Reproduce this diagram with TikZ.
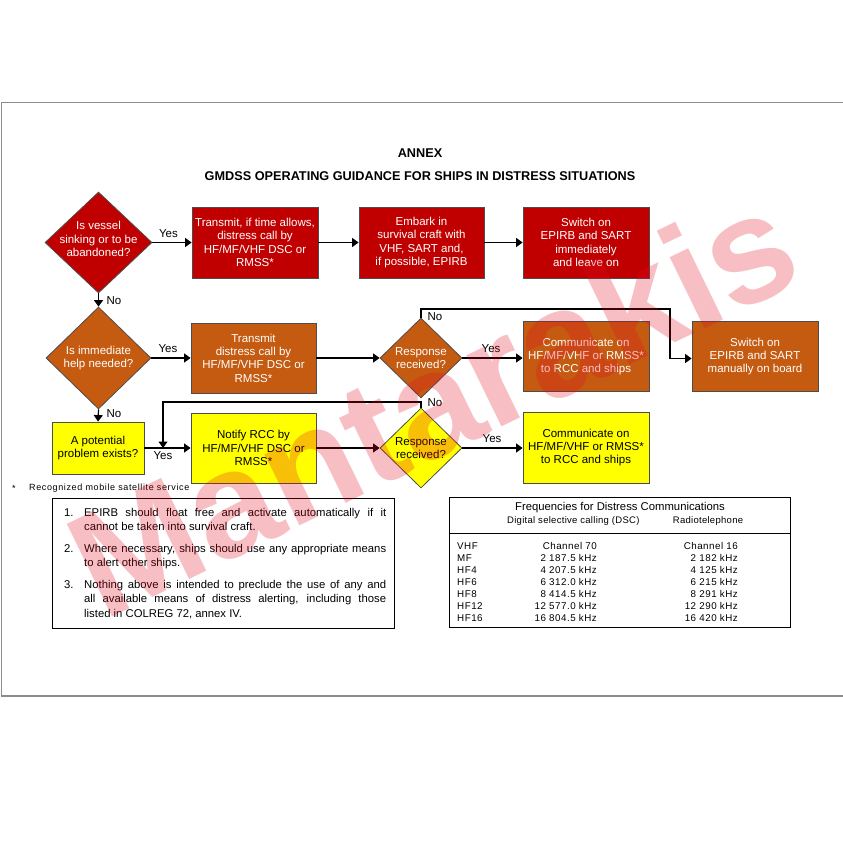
\documentclass[tikz,border=0pt]{standalone}
\usepackage{fontspec}
\setmainfont{Liberation Sans}
\newfontfamily\spfoot[LetterSpace=7]{Liberation Sans}
\newfontfamily\sprow[LetterSpace=5]{Liberation Sans}
\newfontfamily\sphead[LetterSpace=3]{Liberation Sans}
\usetikzlibrary{shapes.geometric,arrows.meta}
\definecolor{cred}{RGB}{192,0,0}
\definecolor{corange}{RGB}{197,90,17}
\definecolor{cyellow}{RGB}{255,255,0}
\definecolor{framegray}{RGB}{140,140,140}
\definecolor{wmred}{RGB}{225,10,30}
\newcommand\boxfont{\fontsize{11.5}{13.3}\selectfont}
\tikzset{
  flowbox/.style={draw=black!70, line width=0.8pt, inner sep=0pt,
    minimum width=126pt, minimum height=71pt, align=center, font=\boxfont},
  flowdia/.style={diamond, draw=black!70, line width=0.8pt, inner sep=0pt},
  wtxt/.style={text=white, align=center, font=\boxfont, inner sep=0pt},
  btxt/.style={text=black, align=center, font=\boxfont, inner sep=0pt},
  arr/.style={-{Triangle[length=6.5pt,width=9pt]}, line width=1.2pt},
  lab/.style={font=\fontsize{11.5}{13}\selectfont, inner sep=0pt},
  notetxt/.style={text width=302pt, align=justify, inner sep=0pt,
    font=\fontsize{11.3}{14.5}\selectfont},
  notenum/.style={inner sep=0pt, font=\fontsize{11.3}{14.5}\selectfont},
  rowtxt/.style={inner sep=0pt, font=\sprow\fontsize{9.8}{11}\selectfont},
  headtxt/.style={inner sep=0pt, font=\sphead\fontsize{9.5}{11}\selectfont},
}
\begin{document}
\begin{tikzpicture}[x=1pt,y=-1pt]
\useasboundingbox (0,0) rectangle (842,842);
\fill[white] (0,0) rectangle (842,842);
% frame
\draw[framegray, line width=1.3pt] (1.5,102.5) rectangle (850,696);
% titles
\node[inner sep=0pt, font=\fontsize{12.7}{15}\bfseries\selectfont] (annex) at (420,153) {ANNEX};
\node[inner sep=0pt, font=\fontsize{12.7}{15}\bfseries\selectfont] (title) at (420,176.5) {GMDSS OPERATING GUIDANCE FOR SHIPS IN DISTRESS SITUATIONS};

% row 1
\node[flowdia, fill=cred, minimum width=107pt, minimum height=101pt] (d1) at (98.5,242.5) {};
\node[wtxt] (d1t) at (98.5,239) {Is vessel\\sinking or to be\\abandoned?};
\node[flowbox, fill=cred, text=white] (b1) at (255,242.5) {Transmit, if time allows,\\distress call by\\HF/MF/VHF DSC or\\RMSS*};
\node[flowbox, fill=cred, text=white, minimum width=125pt] (b2) at (421.5,242.5) {Embark in\\survival craft with\\VHF, SART and,\\if possible, EPIRB};
\node[flowbox, fill=cred, text=white] (b3) at (586,242.5) {Switch on\\EPIRB and SART\\immediately\\and leave on};

% row 2
\node[flowdia, fill=corange, minimum width=105pt, minimum height=102pt] (d2) at (98.5,358) {};
\node[wtxt] (d2t) at (98.5,358) {Is immediate\\help needed?};
\node[flowbox, fill=corange, text=white, minimum width=125pt, minimum height=70pt] (b4) at (253.5,358) {Transmit\\distress call by\\HF/MF/VHF DSC or\\RMSS*};
\node[flowdia, fill=corange, minimum width=82pt, minimum height=80pt] (d3) at (421,358) {};
\node[wtxt] (d3t) at (421,358) {Response\\received?};
\node[flowbox, fill=corange, text=white, minimum height=70pt] (b5) at (586,356.5) {Communicate on\\HF/MF/VHF or RMSS*\\to RCC and ships};
\node[flowbox, fill=corange, text=white, minimum height=70pt] (b6) at (755,356.5) {Switch on\\EPIRB and SART\\manually on board};

% row 3
\node[flowbox, fill=cyellow, minimum width=92pt, minimum height=52pt] (y1) at (98,448) {A potential\\problem exists?};
\node[flowbox, fill=cyellow, minimum width=125pt, minimum height=70pt] (b7) at (253.5,448) {Notify RCC by\\HF/MF/VHF DSC or\\RMSS*};
\node[flowdia, fill=cyellow, minimum width=82pt, minimum height=80pt] (d4) at (421,448) {};
\node[btxt] (d4t) at (421,448) {Response\\received?};
\node[flowbox, fill=cyellow, minimum height=71pt] (b8) at (586,447.5) {Communicate on\\HF/MF/VHF or RMSS*\\to RCC and ships};

% connectors
\draw[arr] (d1.east) -- (d1.east -| b1.west);
\draw[arr] (b1.east) -- (b1.east -| b2.west);
\draw[arr] (b2.east) -- (b2.east -| b3.west);
\draw[arr] (d1.south) -- (d2.north);
\draw[arr] (d2.east) -- (d2.east -| b4.west);
\draw[arr] (b4.east) -- (b4.east -| d3.west);
\draw[arr] (d3.east) -- (d3.east -| b5.west);
\coordinate (n1a) at (670,309);
\coordinate (n1b) at (670,358.5);
\draw[arr] (d3.north) |- (n1a) -- (n1b) -- (n1b -| b6.west);
\draw[arr] (d2.south) -- (y1.north);
\draw[arr] (y1.east) -- (y1.east -| b7.west);
\draw[arr] (b7.east) -- (b7.east -| d4.west);
\draw[arr] (d4.east) -- (d4.east -| b8.west);
\coordinate (n2a) at (163,402);
\coordinate (n2b) at (163,448);
\draw[arr] (d4.north) |- (n2a) -- (n2b);

% labels
\node[lab] (l1) at (168.5,233.5) {Yes};
\node[lab] (l2) at (114,300.5) {No};
\node[lab] (l3) at (168,349) {Yes};
\node[lab] (l4) at (491,349) {Yes};
\node[lab] (l5) at (435,316.5) {No};
\node[lab] (l6) at (114,414) {No};
\node[lab] (l7) at (163,456) {Yes};
\node[lab] (l8) at (492,438.5) {Yes};
\node[lab] (l9) at (435,403) {No};

% footnote
\node[inner sep=0pt, font=\spfoot\fontsize{9}{10}\selectfont] (fstar) at (14,488) {*};
\node[inner sep=0pt, anchor=west, font=\spfoot\fontsize{9}{10}\selectfont] (ftxt) at (29,488) {Recognized mobile satellite service};

% notes box
\node[draw=black, line width=0.8pt, minimum width=342pt, minimum height=130pt, inner sep=0pt] (nb) at (223,563) {};
\node[notenum, anchor=base west] (n1n) at (64,516) {1.};
\node[notetxt, anchor=base west] (n1t) at (84,516) {EPIRB should float free and activate automatically if it\linebreak cannot be taken into survival craft.};
\node[notenum, anchor=base west] (n2n) at (64,552) {2.};
\node[notetxt, anchor=base west] (n2t) at (84,552) {Where necessary, ships should use any appropriate means\linebreak to alert other ships.};
\node[notenum, anchor=base west] (n3n) at (64,588) {3.};
\node[notetxt, anchor=base west] (n3t) at (84,588) {Nothing above is intended to preclude the use of any and\linebreak all available means of distress alerting, including those\linebreak listed in COLREG 72, annex IV.};

% frequency box
\node[draw=black, line width=0.8pt, minimum width=341pt, minimum height=130pt, inner sep=0pt] (fb) at (619.5,562.5) {};
\coordinate (fsep) at (619.5,533.5);
\draw[line width=0.8pt] (fsep -| fb.west) -- (fsep -| fb.east);
\node[inner sep=0pt, font=\fontsize{11.3}{13}\selectfont] (ftitle) at (620,507.5) {Frequencies for Distress Communications};
\node[headtxt, anchor=west] (fh1) at (507,521) {Digital selective calling (DSC)};
\node[headtxt] (fh2) at (708,521) {Radiotelephone};
\foreach \lab/\dsc/\rt [count=\i from 0] in {VHF/Channel 70/Channel 16, MF/2 187.5 kHz/2 182 kHz, HF4/4 207.5 kHz/4 125 kHz, HF6/6 312.0 kHz/6 215 kHz, HF8/8 414.5 kHz/8 291 kHz, HF12/12 577.0 kHz/12 290 kHz, HF16/16 804.5 kHz/16 420 kHz}{
  \node[rowtxt, anchor=west] (fr\i a) at (457,546+12*\i) {\lab};
  \node[rowtxt, anchor=east] (fr\i b) at (597,546+12*\i) {\dsc};
  \node[rowtxt, anchor=east] (fr\i c) at (738,546+12*\i) {\rt};
}

% watermark
\node[inner sep=0pt, rotate=26, text=wmred, text opacity=0.26,
  font=\fontsize{150}{150}\bfseries\selectfont] (wm) at (432,402) {Mantarakis};
\end{tikzpicture}
\end{document}
